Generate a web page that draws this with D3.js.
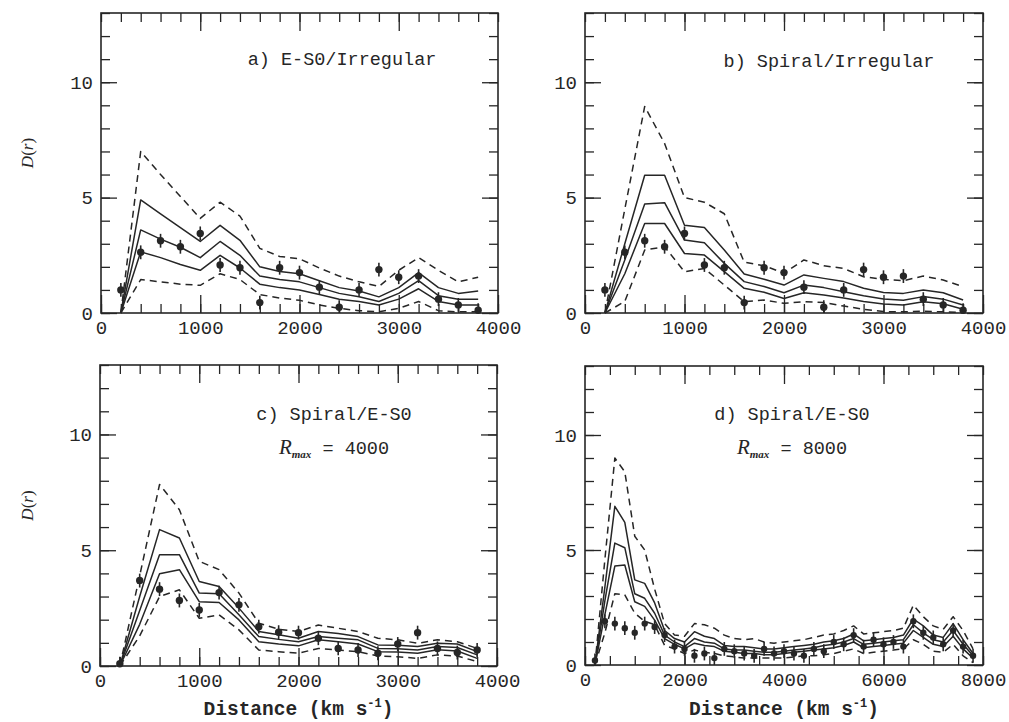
<!DOCTYPE html>
<html><head><meta charset="utf-8">
<script src="https://cdn.jsdelivr.net/npm/d3@7"></script>
<style>body{margin:0;background:#fff;} svg{display:block;}</style>
</head><body>
<svg id="chart" width="1009" height="722"></svg>
<script>
// ---------- data ----------
const xShort = [200,400,600,800,1000,1200,1400,1600,1800,2000,2200,2400,2600,2800,3000,3200,3400,3600,3800];
const xLong = [200,400,600,800,1000,1200,1400,1600,1800,2000,2200,2400,2600,2800,3000,3200,3400,3600,3800,
               4000,4200,4400,4600,4800,5000,5200,5400,5600,5800,6000,6200,6400,6600,6800,7000,7200,7400,7600,7800];

// panel a) E-S0/Irregular
const aHiDash = [0,7.0,6.0,5.05,4.1,4.8,4.2,2.8,2.45,2.35,1.95,1.6,1.35,1.15,1.85,2.4,1.85,1.35,1.55];
const aHi     = [0,4.9,4.3,3.7,3.1,3.8,3.15,2.0,1.8,1.7,1.4,1.1,0.95,0.7,1.1,1.75,1.1,0.85,0.95];
const aMid    = [0,3.6,3.2,2.85,2.4,3.1,2.5,1.6,1.45,1.35,1.1,0.85,0.7,0.5,0.85,1.4,0.75,0.6,0.6];
const aLo     = [0,2.65,2.4,2.1,1.85,2.5,1.95,1.25,1.1,1.0,0.8,0.6,0.5,0.35,0.6,1.05,0.5,0.35,0.35];
const aLoDash = [0,1.45,1.35,1.25,1.2,1.7,1.45,0.8,0.65,0.55,0.35,0.2,0.1,0.05,0.2,0.5,0.1,0.05,0.05];
// observed points shared by a) and b)
const obsIrr  = [1.0,2.63,3.13,2.87,3.45,2.08,1.96,0.45,1.96,1.75,1.12,0.25,1.0,1.88,1.55,1.6,0.6,0.35,0.12];

// panel b) Spiral/Irregular
const bHiDash = [0,4.5,8.95,7.35,5.0,4.8,4.3,2.2,2.05,1.72,2.3,2.05,1.93,1.57,1.46,1.4,1.6,1.43,1.14];
const bHi     = [0,3.0,5.97,5.97,3.8,3.7,2.73,1.69,1.46,1.21,1.65,1.5,1.36,1.07,0.89,0.85,1.0,0.88,0.56];
const bMid    = [0,2.3,4.72,4.78,3.16,3.04,2.15,1.36,1.15,0.88,1.21,1.1,0.92,0.75,0.61,0.55,0.71,0.6,0.35];
const bLo     = [0,1.7,3.88,3.88,2.58,2.51,1.79,1.07,0.9,0.63,0.88,0.78,0.65,0.5,0.39,0.35,0.49,0.4,0.16];
const bLoDash = [0,0.5,2.73,2.87,1.79,1.93,1.21,0.49,0.56,0.42,0.49,0.45,0.3,0.16,0.06,0.05,0.08,0.05,0.02];

// panel c) Spiral/E-S0, Rmax = 4000
const cHiDash = [0,3.9,7.84,6.75,4.52,4.16,3.15,1.85,1.59,1.49,1.77,1.63,1.49,1.2,1.13,0.98,1.13,1.05,0.76];
const cHi     = [0,3.0,5.89,5.53,3.65,3.43,2.5,1.49,1.35,1.2,1.49,1.4,1.27,0.91,0.9,0.84,0.98,0.95,0.62];
const cMid    = [0,2.4,4.81,4.81,3.15,3.12,2.21,1.27,1.15,1.05,1.27,1.2,1.13,0.76,0.75,0.69,0.84,0.8,0.48];
const cLo     = [0,1.8,3.98,4.16,2.78,2.74,1.99,1.05,0.95,0.87,1.13,1.05,0.95,0.62,0.6,0.55,0.7,0.65,0.33];
const cLoDash = [0,1.3,3.0,3.29,2.06,2.21,1.56,0.69,0.62,0.55,0.76,0.69,0.62,0.43,0.4,0.33,0.48,0.43,0.19];
const obsC    = [0.1,3.69,3.32,2.83,2.42,3.17,2.64,1.7,1.46,1.44,1.2,0.76,0.69,0.55,0.95,1.44,0.76,0.58,0.69];

// panel d) Spiral/E-S0, Rmax = 8000
const dHiDash = [0,4.6,9.0,8.4,5.6,5.0,3.3,1.8,1.3,1.25,1.8,1.75,1.6,1.3,1.15,1.1,1.15,1.0,0.95,
                 1.0,1.05,1.1,1.2,1.3,1.35,1.5,1.7,1.35,1.4,1.45,1.5,1.6,2.6,2.1,1.7,1.55,2.1,1.5,0.7];
const dHi     = [0,3.4,6.9,6.2,3.7,3.55,2.7,1.5,1.15,1.0,1.45,1.25,1.15,0.85,0.8,0.8,0.75,0.7,0.7,
                 0.75,0.8,0.85,0.9,1.0,1.05,1.15,1.35,1.05,1.1,1.15,1.2,1.3,2.0,1.7,1.3,1.2,1.8,1.1,0.5];
const dMid    = [0,2.8,5.3,5.1,3.1,2.9,2.25,1.3,1.0,0.8,1.15,1.0,0.95,0.7,0.65,0.65,0.6,0.55,0.55,
                 0.6,0.65,0.7,0.75,0.85,0.9,1.0,1.15,0.9,0.95,1.0,1.05,1.1,1.75,1.4,1.1,1.0,1.5,0.9,0.4];
const dLo     = [0,2.2,4.3,4.35,2.75,2.55,1.95,1.15,0.9,0.7,0.95,0.85,0.8,0.6,0.55,0.5,0.5,0.45,0.45,
                 0.5,0.55,0.6,0.65,0.7,0.75,0.85,1.0,0.75,0.8,0.85,0.9,0.95,1.5,1.2,0.9,0.8,1.25,0.7,0.3];
const dLoDash = [0,1.4,3.1,3.05,2.25,1.9,1.75,0.85,0.7,0.5,0.65,0.55,0.5,0.4,0.35,0.3,0.3,0.3,0.3,
                 0.3,0.35,0.4,0.4,0.45,0.5,0.6,0.7,0.5,0.55,0.6,0.65,0.7,1.1,0.9,0.6,0.55,0.9,0.4,0.1];
const obsD    = [0.2,1.9,1.8,1.6,1.4,1.8,1.65,1.3,0.8,0.7,0.4,0.5,0.3,0.7,0.6,0.5,0.4,0.7,0.5,
                 0.6,0.5,0.4,0.7,0.6,1.0,0.9,1.3,0.8,1.1,0.9,1.0,0.8,1.9,1.4,1.2,0.9,1.5,0.8,0.4];

const xTicks4000 = [0,1000,2000,3000,4000];
const xTicks8000 = [0,2000,4000,6000,8000];
const yTicks = [0,5,10];
const titles = ["a) E-S0/Irregular","b) Spiral/Irregular","c) Spiral/E-S0","d) Spiral/E-S0"];
const rmaxValues = [null,null,"4000","8000"];
const errHalf = 0.3;

// ---------- layout ----------
const ink = "#262626";
const monoFont = "'Liberation Mono', 'DejaVu Sans Mono', monospace";
const serifFont = "'Liberation Serif', 'DejaVu Serif', serif";
const svg = d3.select("#chart");

const panels = [
  {left:101,right:498,top:13,bottom:313,xMax:4000,major:xTicks4000,minorStep:200,xs:xShort,
   bands:[aHiDash,aHi,aMid,aLo,aLoDash],obs:obsIrr,title:titles[0],tx:342,ty:65,rmax:rmaxValues[0],ylab:true},
  {left:585,right:983,top:13,bottom:313,xMax:4000,major:xTicks4000,minorStep:200,xs:xShort,
   bands:[bHiDash,bHi,bMid,bLo,bLoDash],obs:obsIrr,title:titles[1],tx:829,ty:67,rmax:rmaxValues[1],ylab:false},
  {left:100,right:497,top:365,bottom:666,xMax:4000,major:xTicks4000,minorStep:200,xs:xShort,
   bands:[cHiDash,cHi,cMid,cLo,cLoDash],obs:obsC,title:titles[2],tx:334,ty:420,rmax:rmaxValues[2],ylab:true},
  {left:585,right:983,top:366,bottom:665,xMax:8000,major:xTicks8000,minorStep:500,xs:xLong,
   bands:[dHiDash,dHi,dMid,dLo,dLoDash],obs:obsD,title:titles[3],tx:792,ty:420,rmax:rmaxValues[3],ylab:false}
];

function styleAxis(sel){
  sel.select(".domain").remove();
  sel.selectAll(".tick line").attr("stroke",ink).attr("stroke-width",1.3);
  sel.selectAll(".tick text").attr("fill",ink).style("font-family",monoFont).style("font-size","19px");
}

panels.forEach((p,pi)=>{
  const x = d3.scaleLinear().domain([0,p.xMax]).range([p.left,p.right]);
  const y = d3.scaleLinear().domain([0,13]).range([p.bottom,p.top]);
  const g = svg.append("g");

  // model lines
  const line = d3.line().x(d=>x(d[0])).y(d=>y(d[1]));
  p.bands.forEach((arr,i)=>{
    g.append("path")
      .datum(p.xs.map((xv,j)=>[xv,arr[j]]))
      .attr("d",line).attr("fill","none")
      .attr("stroke",ink).attr("stroke-width",1.5)
      .attr("stroke-linejoin","round")
      .attr("stroke-dasharray",(i===0||i===4)?"7,5":null);
  });

  // observed points with error bars
  const pts = p.xs.map((xv,j)=>({x:xv,v:p.obs[j]}));
  g.selectAll(".err").data(pts).enter().append("line")
    .attr("x1",d=>x(d.x)).attr("x2",d=>x(d.x))
    .attr("y1",d=>y(Math.max(0,d.v-errHalf))).attr("y2",d=>y(d.v+errHalf))
    .attr("stroke",ink).attr("stroke-width",1.6);
  g.selectAll(".pt").data(pts).enter().append("circle")
    .attr("cx",d=>x(d.x)).attr("cy",d=>y(d.v)).attr("r",p.xMax>4000?3.2:3.7)
    .attr("fill",ink);

  // axes (ticks inward on all sides)
  const minor = d3.range(0,p.xMax+1,p.minorStep);
  const yMinor = d3.range(0,14);
  const gb = g.append("g").attr("transform",`translate(0,${p.bottom})`);
  gb.append("g").call(d3.axisBottom(x).tickValues(minor).tickSize(-9).tickFormat("")).call(styleAxis);
  gb.append("g").call(d3.axisBottom(x).tickValues(p.major).tickSize(-18).tickPadding(8).tickFormat(d3.format("d"))).call(styleAxis);
  const gt = g.append("g").attr("transform",`translate(0,${p.top})`);
  gt.append("g").call(d3.axisTop(x).tickValues(minor).tickSize(-9).tickFormat("")).call(styleAxis);
  gt.append("g").call(d3.axisTop(x).tickValues(p.major.filter(v=>v>0&&v<p.xMax)).tickSize(-18).tickFormat("")).call(styleAxis);
  const gl = g.append("g").attr("transform",`translate(${p.left},0)`);
  gl.append("g").call(d3.axisLeft(y).tickValues(yMinor).tickSize(-9).tickFormat("")).call(styleAxis);
  gl.append("g").call(d3.axisLeft(y).tickValues(yTicks).tickSize(-16).tickPadding(8).tickFormat(d3.format("d"))).call(styleAxis);
  const gr = g.append("g").attr("transform",`translate(${p.right},0)`);
  gr.append("g").call(d3.axisRight(y).tickValues(yMinor).tickSize(-9).tickFormat("")).call(styleAxis);
  gr.append("g").call(d3.axisRight(y).tickValues(yTicks).tickSize(-16).tickFormat("")).call(styleAxis);

  // frame
  g.append("rect").attr("x",p.left).attr("y",p.top)
    .attr("width",p.right-p.left).attr("height",p.bottom-p.top)
    .attr("fill","none").attr("stroke",ink).attr("stroke-width",1.6);

  // panel title
  g.append("text").attr("x",p.tx).attr("y",p.ty).attr("text-anchor","middle")
    .attr("fill",ink).style("font-family",monoFont).style("font-size","18.5px")
    .text(p.title);
  if(p.rmax){
    const t = g.append("text").attr("x",p.tx).attr("y",p.ty+34).attr("text-anchor","middle")
      .attr("fill",ink).style("font-family",monoFont).style("font-size","18.5px");
    t.append("tspan").style("font-family",serifFont).style("font-style","italic").style("font-size","21px").text("R");
    t.append("tspan").attr("dy",4).style("font-family",serifFont).style("font-style","italic").style("font-size","11px").style("font-weight","bold").text("max");
    t.append("tspan").attr("dy",-4).text(" = "+p.rmax);
  }

  // y label
  if(p.ylab){
    const cy = (p.top+p.bottom)/2 - 10;
    const yl = g.append("text").attr("transform",`translate(33,${cy}) rotate(-90)`)
      .attr("text-anchor","middle").attr("fill",ink)
      .style("font-family",serifFont).style("font-size","17px");
    yl.append("tspan").style("font-style","italic").text("D");
    yl.append("tspan").text("(");
    yl.append("tspan").style("font-style","italic").text("r");
    yl.append("tspan").text(")");
  }

  // x label for bottom row
  if(pi>=2){
    const xl = g.append("text").attr("x",(p.left+p.right)/2).attr("y",715)
      .attr("text-anchor","middle").attr("fill",ink)
      .style("font-family",monoFont).style("font-size","19.5px").style("font-weight","bold");
    xl.append("tspan").text("Distance (km s");
    xl.append("tspan").attr("dy",-8).style("font-size","12px").text("-1");
    xl.append("tspan").attr("dy",8).text(")");
  }
});
</script>
</body></html>
